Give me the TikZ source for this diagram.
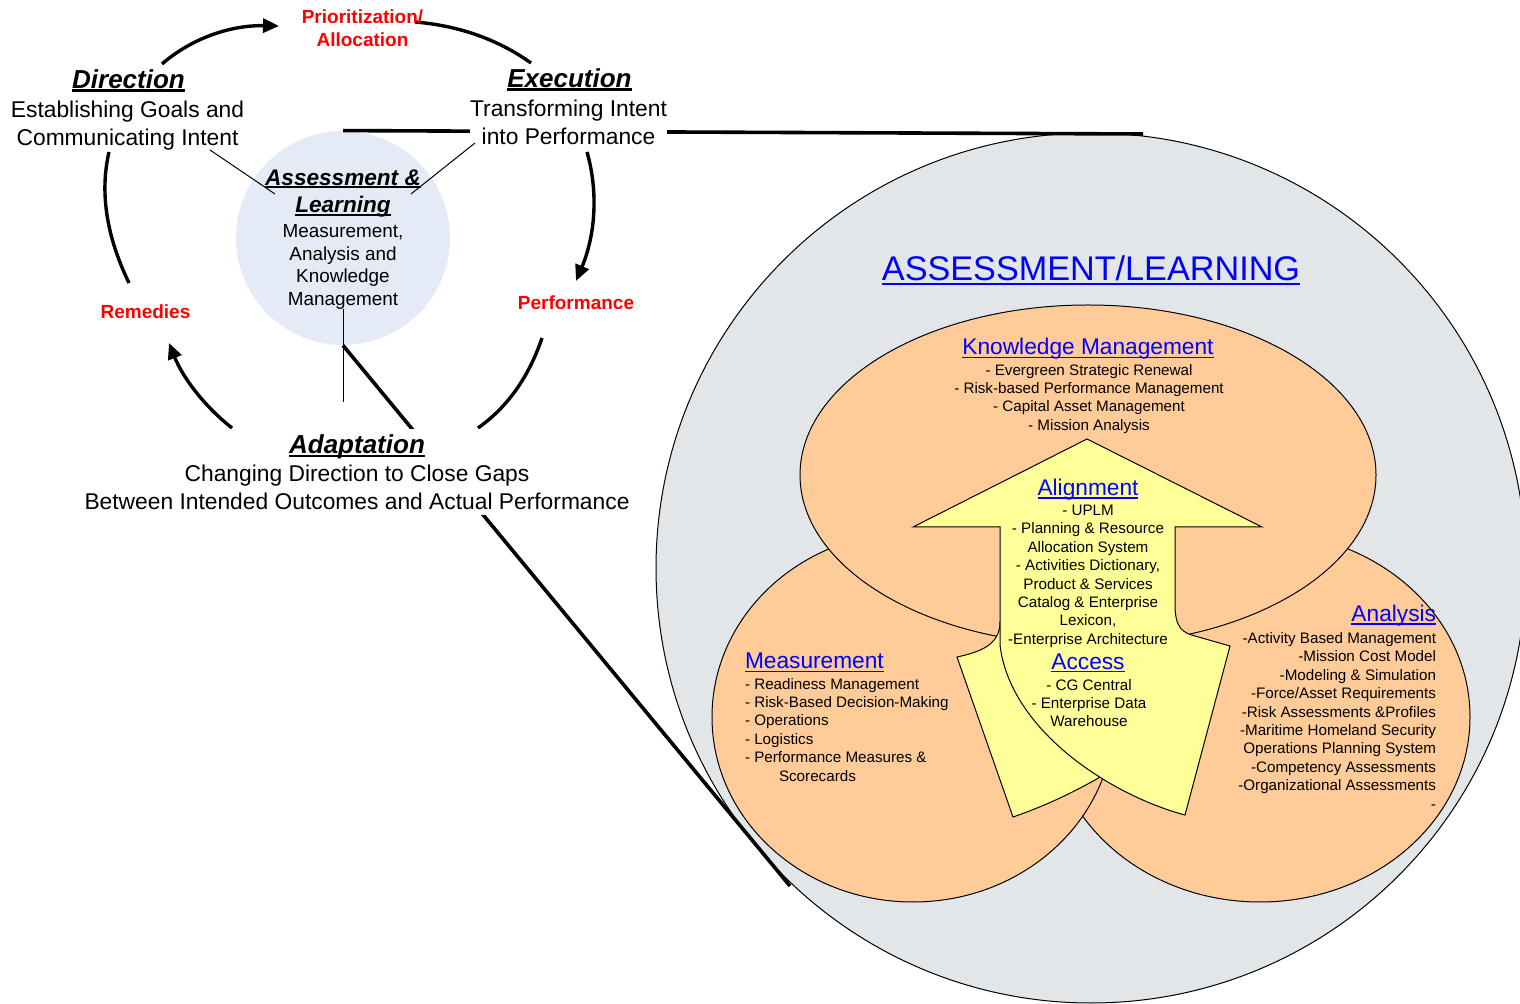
\documentclass[tikz,border=0pt]{standalone}
\usepackage{fontspec}
\setmainfont{Liberation Sans}
\usetikzlibrary{arrows.meta,shapes.geometric}
\definecolor{bggray}{RGB}{227,230,232}
\definecolor{peach}{RGB}{255,204,153}
\definecolor{ayellow}{RGB}{255,255,153}
\definecolor{lblue}{RGB}{228,234,246}
\newcommand{\myul}[2][0.07em]{\setbox0\hbox{#2}\rlap{\rule[-0.14em]{\wd0}{#1}}\box0}
\begin{document}
\begin{tikzpicture}[x=0.5pt,y=-0.5pt,
  txt/.style={inner sep=0pt, outer sep=0pt},
  redlab/.style={txt, text=red, font=\fontsize{9.5}{11.35}\selectfont\bfseries, align=center},
  ttl/.style={txt, font=\fontsize{13}{14}\selectfont\bfseries\itshape},
  body/.style={txt, align=center, font=\fontsize{11.4}{13.9}\selectfont},
  subttl/.style={txt, text=blue, font=\fontsize{11.35}{13}\selectfont},
  items/.style={txt, font=\fontsize{7.6}{9.2}\selectfont},
  cyc/.style={line width=1.7pt},
  tipend/.style={-{Triangle[length=8pt,width=7pt]}},
  zoomline/.style={line width=1.8pt},
  thinline/.style={line width=0.5pt},
  shapeline/.style={draw=black, line width=0.5pt},
]
\useasboundingbox (0,0) rectangle (1520,1004);
\clip (0,0) rectangle (1520,1004);

% ---------- right part: big circle and overlapping ellipses ----------
\node[circle, shapeline, fill=bggray, minimum size=435pt, inner sep=0pt] (big) at (1091,568) {};
\node[ellipse, shapeline, fill=peach, minimum width=210pt, minimum height=185pt, inner sep=0pt] (ana) at (1260,717) {};
\node[ellipse, shapeline, fill=peach, minimum width=201pt, minimum height=185pt, inner sep=0pt] (mea) at (913,717) {};
\node[ellipse, shapeline, fill=peach, minimum width=288pt, minimum height=170pt, inner sep=0pt] (kno) at (1088,475) {};

% yellow arrow: left lobe (behind) and main up arrow
\path[shapeline, fill=ayellow]
  (1000,622) .. controls (1000,645) and (980,652) .. (957,657)
  -- (1013,817)
  .. controls (1045,806) and (1080,790) .. (1115,768)
  -- (1120,700) -- (1020,622) -- cycle;
\path[shapeline, fill=ayellow]
  (1087,439) -- (1262,527) -- (1175,527) -- (1175,605)
  .. controls (1175,628) and (1183,633) .. (1195,636)
  -- (1230,646) -- (1185,815)
  .. controls (1110,795) and (1010,730) .. (1000,645)
  -- (1000,527) -- (913,527) -- cycle;

% ---------- left part ----------
\node[circle, fill=lblue, minimum size=107pt, inner sep=0pt] (alc) at (343,238) {};

\coordinate (bigtop) at (1143,134);
\coordinate (bigbot) at (790,886);
\draw[zoomline] (alc.north) -- (bigtop);
\draw[zoomline] (alc.south) -- (bigbot);

% cycle arcs
\coordinate (a1s) at (162,64);  \coordinate (a1e) at (279,26);
\coordinate (a2s) at (415,22);  \coordinate (a2e) at (531,63);
\coordinate (a3s) at (587,152); \coordinate (a3e) at (576,281);
\coordinate (a4s) at (542,338); \coordinate (a4e) at (478,428);
\coordinate (a5s) at (232,428); \coordinate (a5e) at (169,343);
\coordinate (a6s) at (129,283); \coordinate (a6e) at (109,152);
\draw[cyc, tipend] (a1s) .. controls (192,38) and (231,25) .. (a1e);
\draw[cyc] (a2s) .. controls (459,25.7) and (497.7,39.3) .. (a2e);
\draw[cyc, tipend] (a3s) .. controls (598.7,193) and (595,236) .. (a3e);
\draw[cyc] (a4s) .. controls (528.7,377.3) and (507.3,407.3) .. (a4e);
\draw[cyc, tipend] (a5s) .. controls (203.7,405.7) and (182.7,377.3) .. (a5e);
\draw[cyc] (a6s) .. controls (106.3,236) and (99.7,192.3) .. (a6e);

% texts of the cycle
\node[redlab, anchor=north] (prio) at (362.5,9.7) {Prioritization/\\Allocation};
\node[ttl, anchor=base] (dirT) at (128.5,88.3) {\myul[0.1em]{Direction}};
\node[body, anchor=north] (dirB) at (127.5,101) {Establishing Goals and\\Communicating Intent};
\node[ttl, anchor=base] (exeT) at (569.5,87.3) {\myul[0.1em]{Execution}};
\node[body, anchor=north, fill=white] (exeB) at (568.5,100.4) {Transforming Intent\\into Performance};
\node[txt, align=center, font=\fontsize{11.3}{13.8}\selectfont\bfseries\itshape, anchor=north] (alT) at (343,169.5) {\myul[0.1em]{Assessment \&}\\\myul[0.1em]{Learning}};
\node[txt, align=center, font=\fontsize{9.45}{11.25}\selectfont, anchor=north] (alB) at (343,224.8) {Measurement,\\Analysis and\\Knowledge\\Management};
\node[redlab, anchor=base] (rem) at (145.5,318.3) {Remedies};
\node[redlab, anchor=base] (perf) at (576,309.3) {Performance};
\node[body, anchor=north, fill=white, inner xsep=1pt, inner ysep=3pt] (ada) at (357,428.7)
  {{\fontsize{13}{14}\selectfont\bfseries\itshape\myul[0.1em]{Adaptation}}\\Changing Direction to Close Gaps\\Between Intended Outcomes and Actual Performance};

% thin connectors
\coordinate (d1) at (210,150); \coordinate (d2) at (275,194);
\coordinate (e1) at (475,143); \coordinate (e2) at (411,194);
\coordinate (vl) at (343,402);
\draw[thinline] (d1) -- (d2);
\draw[thinline] (e1) -- (e2);
\draw[thinline] (alB.south) -- (vl);

% ---------- texts of the right part ----------
\node[txt, text=blue, font=\fontsize{17.1}{20}\selectfont, anchor=base] (altitle) at (1091,280.7) {\myul{ASSESSMENT/LEARNING}};
\node[subttl, anchor=base] (kmT) at (1088,355) {\myul{Knowledge Management}};
\node[items, align=center, anchor=north] (kmI) at (1089,364.1) {- Evergreen Strategic Renewal\\- Risk-based Performance Management\\- Capital Asset Management\\- Mission Analysis};
\node[subttl, anchor=base] (alnT) at (1088,495.7) {\myul{Alignment}};
\node[items, align=center, anchor=north] (alnI) at (1088,505.1) {- UPLM\\- Planning \& Resource\\Allocation System\\- Activities Dictionary,\\Product \& Services\\Catalog \& Enterprise\\Lexicon,\\-Enterprise Architecture};
\node[subttl, anchor=base] (accT) at (1088,669.3) {\myul{Access}};
\node[items, align=center, anchor=north] (accI) at (1089,679.1) {- CG Central\\- Enterprise Data\\Warehouse};
\node[subttl, anchor=base west] (meaT) at (745,669) {\myul{Measurement}};
\node[items, align=left, anchor=north west] (meaI) at (745,678.1) {- Readiness Management\\- Risk-Based Decision-Making\\- Operations\\- Logistics\\- Performance Measures \&\\\hspace*{17pt}Scorecards};
\node[subttl, anchor=base east] (anaT) at (1436,621.7) {\myul{Analysis}};
\node[items, align=right, anchor=north east] (anaI) at (1436,632.4) {-Activity Based Management\\-Mission Cost Model\\-Modeling \& Simulation\\-Force/Asset Requirements\\-Risk Assessments \&Profiles\\-Maritime Homeland Security\\Operations Planning System\\-Competency Assessments\\-Organizational Assessments\\-};
\end{tikzpicture}
\end{document}
